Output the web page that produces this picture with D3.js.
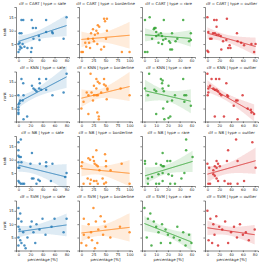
<!DOCTYPE html>
<html>
<head>
<meta charset="utf-8">
<script src="https://cdn.jsdelivr.net/npm/d3@7"></script>
<style>
  body { margin: 0; background: #fff; }
  text { font-family: "DejaVu Sans", sans-serif; fill: #262626; }
</style>
</head>
<body>
<script>
// facet rows / columns
var clfs = ["CART", "KNN", "NB", "SVM"];
var types = ["safe", "borderline", "rare", "outlier"];
var colors = ["#1f77b4", "#ff7f0e", "#2ca02c", "#d62728"];
var xTicks = [[0, 20, 40, 60, 80], [0, 25, 50, 75, 100], [0, 10, 20, 30, 40], [0, 20, 40, 60, 80]];
var yTicks = [5, 10, 15];

// [percentage, rank] per facet
var cartSafe = [[80,15],[5,14],[8,14],[22,14],[46,14],[24,11],[29,11],[2,9],[5,9],[46,9.5],[56,9.5],[57,9],[25,7],[34,8],[35,6.5],[75,7],[2,5.5],[0,5],[3,4],[7,5],[10,4],[5,3.5],[15,3.5],[21,2],[0,2],[2,3],[22,3.5]];
var cartBorder = [[47,14.5],[53,14.5],[49,13.5],[34,12],[37,11.5],[24,10.5],[31,10],[53,10],[20,9],[28,8.5],[34,9],[14,7],[24,7],[51,7],[8,5.5],[16,5.5],[26,6],[33,5],[18,3.5],[41,3],[0,2],[84,2],[100,2],[47,4],[3,2],[10,4]];
var cartRare = [[4.5,15],[0.5,14],[8.5,11],[9.5,11],[8,10.5],[16.5,14],[33,14],[10,9.5],[6.5,7],[10,8],[12,8.5],[14,9],[15,8],[16,6.5],[18,7],[23.5,9],[21,6],[22,5.5],[26.5,6],[28,7],[38,6],[39.5,6.5],[0.5,2],[2.5,2],[12,5.5],[15,5],[22,3],[23.5,3],[39.5,9]];
var cartOut = [[0,15],[11.5,14],[15.5,14],[33,14.5],[15.5,11.5],[1.5,9.5],[9.5,9],[12.5,9],[15.5,8.5],[19,8.5],[22.5,8],[50,9],[4.5,7],[7,7],[26.5,6],[32,6.5],[51,6],[57,5.5],[74.5,5],[81.5,5],[37.5,4.5],[35,3.5],[39,3.5],[23.5,3],[0,2.5],[1.5,2],[79,2],[62,4.5]];
var knnSafe = [[80,18],[5,16],[8,14.5],[34.5,16],[46,16],[35.5,14.5],[22.5,13.5],[25,12.5],[27.5,12],[34.5,12.5],[38,12],[30,11.5],[46,12],[0,10],[8.5,10],[56.5,10],[75,11],[3,8],[7,8],[1.5,7],[0,6.5],[0,4.5],[0,3.5],[0,3],[14.5,2],[8.5,1],[0,5.5]];
var knnBorder = [[19,18],[31,16],[47,16],[34,15],[37.5,14.5],[47,14],[50.5,13.5],[54,12.5],[54,12],[26,13.5],[31,12.5],[81.5,12.5],[100,10],[11,11],[14.5,10],[21,11],[26,10],[31,10],[34,10],[41,11],[4.5,7.5],[24,8],[52.5,8.5],[0,5],[14.5,3],[33,3.5],[36,2],[36,1]];
var knnRare = [[4,18],[14,16],[15.5,15.5],[15,14.5],[33,16],[0.5,12.5],[3,10],[8.5,12],[10,11.5],[15.5,12.5],[16.5,11.5],[20.5,13.5],[26,10],[34,10],[35.5,10],[19.5,7.5],[23.5,8],[10,3],[16,5],[22,2],[20.5,1.5],[17,1],[39.5,6],[34,7.5]];
var knnOut = [[0,18],[7,16],[14.5,16],[20,16],[32,14.5],[4.5,13.5],[1.5,12.5],[10,12.5],[12.5,12],[15.5,12],[1.5,11],[0.5,10],[18,11.5],[21,10.5],[23.5,10],[33.5,10],[35,9.5],[59.5,10],[48.5,8],[51,8],[44.5,6],[68,5],[73.5,4.5],[74.5,3.5],[79,3],[12.5,2],[28,2],[51,1]];
var nbSafe = [[4,17.5],[0,16.5],[0,13.5],[0,11.5],[1.5,11],[4,11],[22.5,12.5],[0,9],[5,9],[0,7],[1.5,7],[20,8.5],[35.5,8.5],[46,9],[46,7.5],[56.5,8.5],[80,5],[77.5,3.5],[22.5,3],[25,3],[0,2],[1.5,1.5],[4,1],[7,1],[9.5,1],[30,1],[35.5,2],[33,2.5],[54,2]];
var nbBorder = [[31,13.5],[24,11],[49,12],[1.5,9],[0,7.5],[14.5,10.5],[18,10],[26,9.5],[27.5,8.5],[31,8],[34,7.5],[51,9.5],[51,7.5],[83.5,8.5],[37.5,6],[13,3],[19.5,2.5],[26,2],[31,2],[34,1],[47,1],[51,1.5],[4.5,1],[18,1],[100,1],[44,3],[60.5,6]];
var nbRare = [[35.5,17.5],[35.5,13.5],[15.5,12.5],[41,11],[0.5,9.5],[0.5,8.5],[10,8.5],[14,8],[15.5,7.5],[16.5,7.5],[19.5,9.5],[22,9.5],[3,3],[6.5,3.5],[12,4.5],[15.5,5],[20.5,4.5],[23.5,4],[10,1],[12.5,1],[15.5,2],[22,1],[26,1],[3,1],[31.5,3],[34,5]];
var nbOut = [[48.5,17.5],[76,16.5],[35,13.5],[51,9.5],[15.5,9.5],[18,8.5],[12.5,7.5],[15.5,7],[21,7.5],[33,9.5],[0,8.5],[3,7],[81.5,7],[10,4.5],[12.5,4],[15.5,3],[18,2],[1.5,1],[4.5,1],[29,2],[35,1],[39,1],[51,1],[62,2],[10,6]];
var svmSafe = [[0,16],[3,14],[0,12],[5,11],[0,9],[2,8],[8,7],[0,5],[3,4],[5,3],[0,2],[10,2],[15,5],[20,9],[22,11],[25,7],[30,10],[35,8],[40,12],[45,6],[55,9],[60,12],[75,7],[80,12],[12,1],[28,3]];
var svmBorder = [[25,16],[5,12],[15,10],[30,11],[40,13],[50,9],[20,7],[35,8],[45,6],[0,3],[10,2],[22,4],[28,1],[60,5],[80,9],[100,7],[5,6],[15,5],[33,3],[48,11]];
var svmRare = [[0,16],[5,14],[3,12],[8,11],[10,9],[15,10],[12,7],[18,8],[20,6],[25,5],[22,3],[30,4],[35,2],[38,6],[40,3],[2,5],[6,2],[14,3],[28,9],[33,7]];
var svmOut = [[0,15],[5,12],[10,10],[15,13],[20,9],[25,8],[30,11],[40,7],[45,9],[50,5],[60,6],[70,4],[80,8],[2,4],[8,3],[12,6],[18,2],[35,3],[55,10],[65,7]];

var panels = [
  [cartSafe, cartBorder, cartRare, cartOut],
  [knnSafe, knnBorder, knnRare, knnOut],
  [nbSafe, nbBorder, nbRare, nbOut],
  [svmSafe, svmBorder, svmRare, svmOut]
];

var W = 266, H = 265;
var left0 = 16, colStep = 63, pw = 53;
var top0 = 7, rowStep = 64.5, ph = 50;

var svg = d3.select("body").append("svg")
    .attr("width", W)
    .attr("height", H);

// matplotlib-like 5% margins
function padded(ext) {
  var d = (ext[1] - ext[0]) * 0.05;
  return [ext[0] - d, ext[1] + d];
}

var allY = d3.merge(panels.map(function(r) { return d3.merge(r); })).map(function(d) { return d[1]; });
var yDomain = padded(d3.extent(allY));

// simple OLS fit with 95% confidence band
function fit(data) {
  var n = data.length;
  var mx = d3.mean(data, function(d) { return d[0]; });
  var my = d3.mean(data, function(d) { return d[1]; });
  var sxx = d3.sum(data, function(d) { return (d[0] - mx) * (d[0] - mx); });
  var sxy = d3.sum(data, function(d) { return (d[0] - mx) * (d[1] - my); });
  var b = sxy / sxx, a = my - b * mx;
  var sse = d3.sum(data, function(d) { var r = d[1] - (a + b * d[0]); return r * r; });
  var s = Math.sqrt(sse / (n - 2));
  var ext = d3.extent(data, function(d) { return d[0]; });
  var pts = d3.range(0, 101).map(function(i) {
    var x = ext[0] + (ext[1] - ext[0]) * i / 100;
    var yh = a + b * x;
    var ci = 2.05 * s * Math.sqrt(1 / n + (x - mx) * (x - mx) / sxx);
    return {x: x, y: yh, lo: yh - ci, hi: yh + ci};
  });
  return pts;
}

panels.forEach(function(row, r) {
  row.forEach(function(data, c) {
    var colData = d3.merge(panels.map(function(rr) { return rr[c]; }));
    var x = d3.scaleLinear()
        .domain(padded(d3.extent(colData, function(d) { return d[0]; })))
        .range([0, pw]);
    var y = d3.scaleLinear()
        .domain(yDomain)
        .range([ph, 0]);

    var g = svg.append("g")
        .attr("transform", "translate(" + (left0 + c * colStep) + "," + (top0 + r * rowStep) + ")");

    var xAxis = d3.axisBottom(x).tickValues(xTicks[c]).tickSize(1.6).tickPadding(0.8);
    var yAxis = d3.axisLeft(y).tickValues(yTicks).tickSize(1.6).tickPadding(0.8);
    if (c > 0) yAxis.tickFormat("");

    var gx = g.append("g").attr("transform", "translate(0," + ph + ")").call(xAxis);
    var gy = g.append("g").call(yAxis);
    [gx, gy].forEach(function(a) {
      a.select(".domain").attr("stroke", "#222").attr("stroke-width", 0.55);
      a.selectAll(".tick line").attr("stroke", "#222").attr("stroke-width", 0.55);
      a.selectAll(".tick text").attr("font-size", 3.7).attr("fill", "#262626");
    });

    var col = colors[c];

    g.selectAll("circle.pt")
      .data(data)
      .enter().append("circle")
        .attr("class", "pt")
        .attr("cx", function(d) { return x(d[0]); })
        .attr("cy", function(d) { return y(d[1]); })
        .attr("r", 1.25)
        .attr("fill", col)
        .attr("fill-opacity", 0.8);

    var line = fit(data);
    var area = d3.area()
        .x(function(d) { return x(d.x); })
        .y0(function(d) { return y(d.lo); })
        .y1(function(d) { return y(d.hi); });
    g.append("path")
        .datum(line)
        .attr("d", area)
        .attr("fill", col)
        .attr("fill-opacity", 0.15);
    g.append("path")
        .datum(line)
        .attr("d", d3.line().x(function(d) { return x(d.x); }).y(function(d) { return y(d.y); }))
        .attr("fill", "none")
        .attr("stroke", col)
        .attr("stroke-width", 0.9);

    // facet title
    g.append("text")
        .attr("x", pw / 2)
        .attr("y", -2.3)
        .attr("text-anchor", "middle")
        .attr("font-size", 3.9)
        .text("clf = " + clfs[r] + " | type = " + types[c]);

    if (c == 0) {
      g.append("text")
          .attr("transform", "translate(-10.5," + (ph / 2) + ") rotate(-90)")
          .attr("text-anchor", "middle")
          .attr("font-size", 3.9)
          .text("rank");
    }
    if (r == 3) {
      g.append("text")
          .attr("x", pw / 2)
          .attr("y", ph + 10.5)
          .attr("text-anchor", "middle")
          .attr("font-size", 3.9)
          .text("percentage [%]");
    }
  });
});
</script>
</body>
</html>
